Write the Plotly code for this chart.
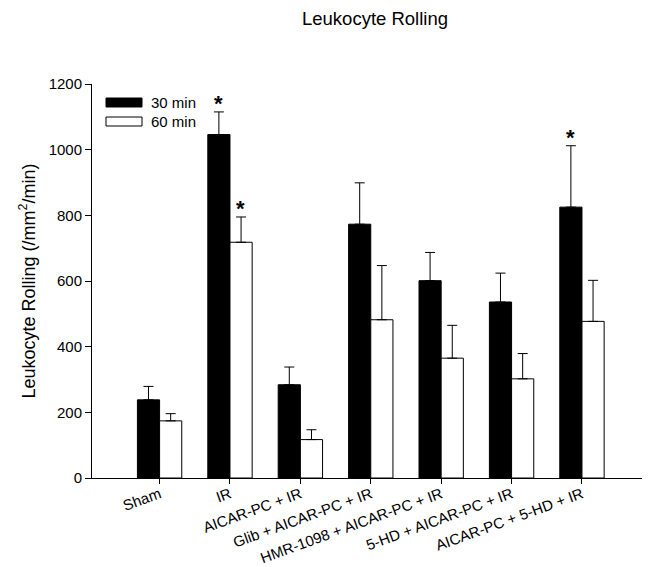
import plotly.graph_objects as go

categories = ["Sham", "IR", "AICAR-PC + IR", "Glib + AICAR-PC + IR",
              "HMR-1098 + AICAR-PC + IR", "5-HD + AICAR-PC + IR", "AICAR-PC + 5-HD + IR"]
min30 = [238, 1046, 284, 773, 601, 536, 825]
min30_err = [41, 69, 54, 126, 86, 88, 187]
min60 = [174, 718, 117, 482, 365, 302, 477]
min60_err = [22, 77, 30, 165, 100, 77, 125]
sig30 = [False, True, False, False, False, False, True]
sig60 = [False, True, False, False, False, False, False]

FONT = "Liberation Sans, Arial, sans-serif"
PW, PH = 566, 394  # plot area size in px

fig = go.Figure()
fig.add_trace(go.Bar(
    x=categories, y=min30, name="30 min",
    marker=dict(color="black", line=dict(color="black", width=1)),
    error_y=dict(type="data", array=min30_err, arrayminus=[0] * len(min30),
                 symmetric=False, color="black", thickness=1, width=5),
))
fig.add_trace(go.Bar(
    x=categories, y=min60, name="60 min",
    marker=dict(color="white", line=dict(color="black", width=1)),
    error_y=dict(type="data", array=min60_err, arrayminus=[0] * len(min60),
                 symmetric=False, color="black", thickness=1, width=5),
))

annotations = []
for i, c in enumerate(categories):
    if sig30[i]:
        annotations.append(dict(x=c, y=min30[i] + min30_err[i], xref="x", yref="y",
                                text="<b>*</b>", showarrow=False, xshift=-11,
                                yanchor="bottom", yshift=-6,
                                font=dict(size=22, color="black", family=FONT)))
    if sig60[i]:
        annotations.append(dict(x=c, y=min60[i] + min60_err[i], xref="x", yref="y",
                                text="<b>*</b>", showarrow=False, xshift=11,
                                yanchor="bottom", yshift=-6,
                                font=dict(size=22, color="black", family=FONT)))

# custom legend
legend_items = [("30 min", "black"), ("60 min", "white")]
shapes = []
for k, (lab, col) in enumerate(legend_items):
    y0 = 1 - (14 + 19 * k) / PH
    y1 = y0 - 9 / PH
    shapes.append(dict(type="rect", xref="paper", yref="paper",
                       x0=14 / PW, x1=50 / PW, y0=y1, y1=y0,
                       fillcolor=col, line=dict(color="black", width=1)))
    annotations.append(dict(x=57 / PW, y=(y0 + y1) / 2, xref="paper", yref="paper",
                            text=lab, showarrow=False, xanchor="left", yanchor="middle",
                            font=dict(size=15, color="black", family=FONT)))

fig.update_layout(
    width=650, height=567,
    margin=dict(l=84, r=0, t=76, b=97),
    paper_bgcolor="white", plot_bgcolor="white",
    barmode="group", bargap=0.37, bargroupgap=0,
    showlegend=False,
    font=dict(family=FONT, color="black", size=15),
    title=dict(text="Leukocyte Rolling", x=0.5, xref="paper", xanchor="center",
               y=1, yref="container", yanchor="top", pad=dict(t=4),
               font=dict(size=18.5, color="black", family=FONT)),
    annotations=annotations, shapes=shapes,
)
fig.update_xaxes(
    type="category", range=[-0.96, 7.08], automargin=False,
    showline=True, linecolor="black", linewidth=1,
    ticks="outside", ticklen=5, tickcolor="black",
    tickangle=-20, tickfont=dict(size=15, family=FONT), ticklabelstandoff=-4,
    showgrid=False, zeroline=False,
)
fig.update_yaxes(
    range=[0, 1200], tickvals=[0, 200, 400, 600, 800, 1000, 1200], automargin=False,
    showline=True, linecolor="black", linewidth=1,
    ticks="outside", ticklen=6, tickcolor="black",
    tickfont=dict(size=15, family=FONT),
    showgrid=False, zeroline=False,
    title=dict(text="Leukocyte Rolling (/mm<sup>2</sup>/min)", font=dict(size=18, family=FONT), standoff=8),
)

fig.write_html("out.html")
